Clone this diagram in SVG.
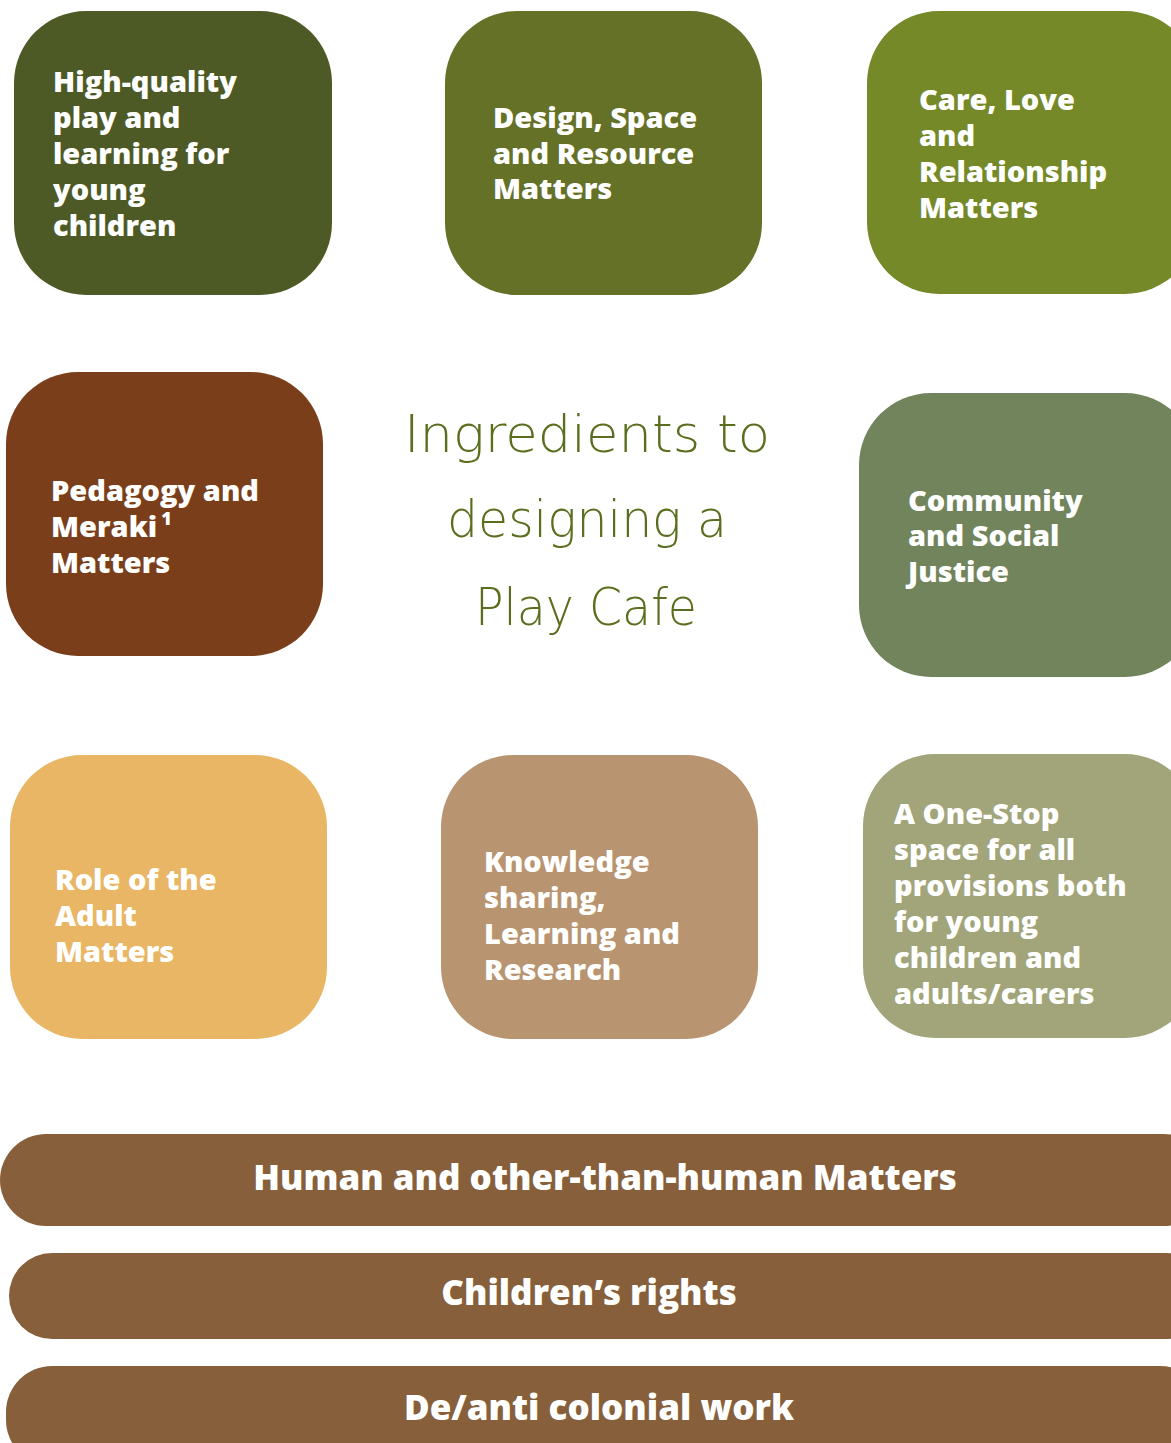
<svg xmlns="http://www.w3.org/2000/svg" width="1171" height="1443" viewBox="0 0 1171 1443">
<style>
.t{font-family:"Open Sans",Lato,"Liberation Sans",sans-serif;font-weight:800;font-size:29px;fill:#ffffff;}
.b{font-family:"Open Sans",Lato,"Liberation Sans",sans-serif;font-weight:800;font-size:35px;fill:#ffffff;text-anchor:middle;}
.h{font-family:"DejaVu Sans","Liberation Sans",sans-serif;font-weight:200;font-size:52px;fill:#5b6e1e;}
.bar{fill:#87603b;}
</style>
<rect width="1171" height="1443" fill="#ffffff"/>
<g id="title">
<text class="h" x="404" y="452" textLength="366" lengthAdjust="spacingAndGlyphs">Ingredients to</text>
<text class="h" x="447" y="537" textLength="280" lengthAdjust="spacingAndGlyphs">designing a</text>
<text class="h" x="475" y="625" textLength="222" lengthAdjust="spacingAndGlyphs">Play Cafe</text>
</g>
<g id="node1">
<rect x="14" y="11" width="318" height="284" rx="72" fill="#4e5a26"/>
<text class="t" x="53" y="92">High-quality</text>
<text class="t" x="53" y="128">play and</text>
<text class="t" x="53" y="164">learning for</text>
<text class="t" x="53" y="200">young</text>
<text class="t" x="53" y="236">children</text>
</g>
<g id="node2">
<rect x="445" y="11" width="317" height="284" rx="72" fill="#647126"/>
<text class="t" x="493" y="128">Design, Space</text>
<text class="t" x="493" y="164">and Resource</text>
<text class="t" x="493" y="199">Matters</text>
</g>
<g id="node3">
<rect x="867" y="11" width="330" height="283" rx="72" fill="#758928"/>
<text class="t" x="919" y="110">Care, Love</text>
<text class="t" x="919" y="146">and</text>
<text class="t" x="919" y="182">Relationship</text>
<text class="t" x="919" y="218">Matters</text>
</g>
<g id="node4">
<rect x="6" y="372" width="317" height="284" rx="72" fill="#7a3e1a"/>
<text class="t" x="51" y="501">Pedagogy and</text>
<text class="t" x="51" y="537">Meraki<tspan font-size="18" dx="4" dy="-12">1</tspan></text>
<text class="t" x="51" y="573">Matters</text>
</g>
<g id="node5">
<rect x="859" y="393" width="338" height="284" rx="72" fill="#71845c"/>
<text class="t" x="908" y="511">Community</text>
<text class="t" x="908" y="546">and Social</text>
<text class="t" x="908" y="582">Justice</text>
</g>
<g id="node6">
<rect x="10" y="755" width="317" height="284" rx="72" fill="#e9b665"/>
<text class="t" x="55" y="890">Role of the</text>
<text class="t" x="55" y="926">Adult</text>
<text class="t" x="55" y="962">Matters</text>
</g>
<g id="node7">
<rect x="441" y="755" width="317" height="284" rx="72" fill="#b89470"/>
<text class="t" x="484" y="872">Knowledge</text>
<text class="t" x="484" y="908">sharing,</text>
<text class="t" x="484" y="944">Learning and</text>
<text class="t" x="484" y="980">Research</text>
</g>
<g id="node8">
<rect x="863" y="754" width="334" height="284" rx="72" fill="#a2a57a"/>
<text class="t" x="894" y="824">A One-Stop</text>
<text class="t" x="894" y="860">space for all</text>
<text class="t" x="894" y="896">provisions both</text>
<text class="t" x="894" y="932">for young</text>
<text class="t" x="894" y="968">children and</text>
<text class="t" x="894" y="1004">adults/carers</text>
</g>
<g id="bar1">
<rect class="bar" x="0" y="1134" width="1210" height="92" rx="46"/>
<text class="b" x="605" y="1190">Human and other-than-human Matters</text>
</g>
<g id="bar2">
<rect class="bar" x="9" y="1253" width="1200" height="86" rx="43"/>
<text class="b" x="589" y="1305">Children’s rights</text>
</g>
<g id="bar3">
<rect class="bar" x="6" y="1366" width="1200" height="100" rx="46"/>
<text class="b" x="599" y="1420">De/anti colonial work</text>
</g>
<g id="connectors"></g>
</svg>
